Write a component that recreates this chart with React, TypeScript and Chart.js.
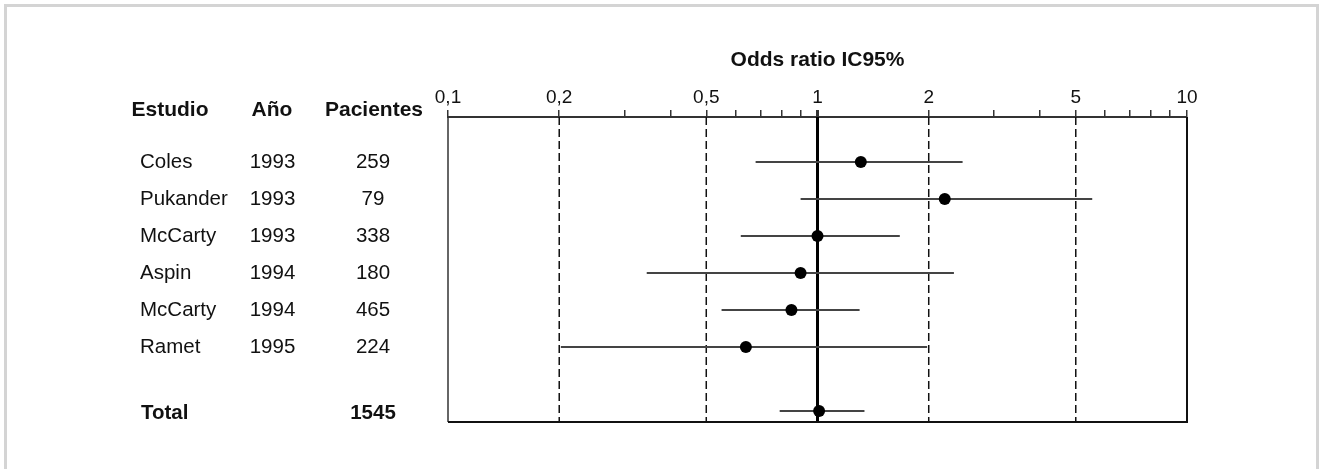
import React, { useEffect, useRef } from "react";
import { Chart, registerables } from "chart.js";

Chart.register(...registerables);

// ---- data ----
const studies = ["Coles", "Pukander", "McCarty", "Aspin", "McCarty", "Ramet"];
const years = ["1993", "1993", "1993", "1994", "1994", "1995"];
const patients = ["259", "79", "338", "180", "465", "224"];
const oddsRatio = [1.31, 2.21, 1.0, 0.9, 0.85, 0.64];
const ciLow = [0.68, 0.9, 0.62, 0.345, 0.55, 0.202];
const ciHigh = [2.47, 5.54, 1.67, 2.34, 1.3, 1.98];
const rowPositions = [1, 2, 3, 4, 5, 6];

const totalLabel = "Total";
const totalPatients = "1545";
const totalOR = 1.01;
const totalLow = 0.79;
const totalHigh = 1.34;
const totalPosition = 7.73;

const headers = ["Estudio", "Año", "Pacientes"];
const axisTitle = "Odds ratio IC95%";
const majorTicks = [0.1, 0.2, 0.5, 1, 2, 5, 10];
const majorTickLabels = ["0,1", "0,2", "0,5", "1", "2", "5", "10"];
const minorTicks = [0.3, 0.4, 0.6, 0.7, 0.8, 0.9, 3, 4, 6, 7, 8, 9];
const dashedRefs = [0.2, 0.5, 2, 5];
const nullEffect = 1;

// ---- layout / style ----
const Y_MIN = -0.216;
const Y_MAX = 8.03;
const FONT = "'Liberation Sans', Arial, Helvetica, sans-serif";
const INK = "#111";

const forestPlugin = {
  id: "forestTable",
  beforeDraw(chart: any) {
    const { ctx } = chart;
    ctx.save();
    ctx.fillStyle = "#fff";
    ctx.fillRect(0, 0, chart.width, chart.height);
    ctx.strokeStyle = "#d4d4d4";
    ctx.lineWidth = 3;
    ctx.strokeRect(5.5, 5.5, chart.width - 9, chart.height + 20);
    ctx.restore();
  },
  afterDraw(chart: any) {
    const { ctx, chartArea: a } = chart;
    const y = chart.scales.y;
    ctx.save();
    // plot frame (left, bottom, right)
    ctx.strokeStyle = "#333";
    ctx.lineWidth = 1.5;
    ctx.beginPath();
    ctx.moveTo(a.left, a.top);
    ctx.lineTo(a.left, a.bottom);
    ctx.stroke();
    ctx.strokeStyle = "#111";
    ctx.lineWidth = 2;
    ctx.beginPath();
    ctx.moveTo(a.left, a.bottom);
    ctx.lineTo(a.right, a.bottom);
    ctx.lineTo(a.right, a.top);
    ctx.stroke();

    // headers
    ctx.fillStyle = INK;
    ctx.font = `bold 21px ${FONT}`;
    ctx.textAlign = "center";
    ctx.textBaseline = "alphabetic";
    const headerX = [170, 272, 374];
    headers.forEach((h, i) => ctx.fillText(h, headerX[i], a.top - 1));

    // rows
    ctx.font = `20.5px ${FONT}`;
    ctx.textBaseline = "middle";
    rowPositions.forEach((pos, i) => {
      const py = y.getPixelForValue(pos);
      ctx.textAlign = "left";
      ctx.fillText(studies[i], 140, py);
      ctx.textAlign = "center";
      ctx.fillText(years[i], 272.5, py);
      ctx.fillText(patients[i], 373, py);
    });

    // total
    ctx.font = `bold 20.5px ${FONT}`;
    const ty = y.getPixelForValue(totalPosition) + 2;
    ctx.textAlign = "left";
    ctx.fillText(totalLabel, 141, ty);
    ctx.textAlign = "center";
    ctx.fillText(totalPatients, 373, ty);
    ctx.restore();
  },
};

export default function App() {
  const ref = useRef<HTMLCanvasElement>(null);

  useEffect(() => {
    if (!ref.current) return;

    const pointData = rowPositions
      .map((pos, i) => ({ x: oddsRatio[i], y: pos }))
      .concat([{ x: totalOR, y: totalPosition }]);

    const ciSets = rowPositions
      .map((pos, i) => ({ lo: ciLow[i], hi: ciHigh[i], pos }))
      .concat([{ lo: totalLow, hi: totalHigh, pos: totalPosition }])
      .map((r) => ({
        type: "scatter" as const,
        data: [
          { x: r.lo, y: r.pos },
          { x: r.hi, y: r.pos },
        ],
        showLine: true,
        borderColor: "#444",
        borderWidth: 2,
        pointRadius: 0,
        order: 1,
      }));

    const refSets = dashedRefs.map((v) => ({
      type: "scatter" as const,
      data: [
        { x: v, y: Y_MIN },
        { x: v, y: Y_MAX },
      ],
      showLine: true,
      borderColor: "#111",
      borderWidth: 1.5,
      borderDash: [8, 4],
      pointRadius: 0,
      order: 2,
    }));

    const nullSet = {
      type: "scatter" as const,
      data: [
        { x: nullEffect, y: Y_MIN },
        { x: nullEffect, y: Y_MAX },
      ],
      showLine: true,
      borderColor: "#000",
      borderWidth: 3,
      pointRadius: 0,
      order: 2,
    };

    const allTicks = [...majorTicks, ...minorTicks].sort((p, q) => p - q);

    const chart = new Chart(ref.current, {
      type: "scatter",
      data: {
        datasets: [
          {
            data: pointData,
            pointRadius: 6,
            pointHoverRadius: 6,
            backgroundColor: "#000",
            borderColor: "#000",
            borderWidth: 0,
            order: 0,
          } as any,
          ...ciSets,
          nullSet,
          ...refSets,
        ],
      },
      options: {
        animation: false,
        responsive: true,
        maintainAspectRatio: false,
        events: [],
        font: { family: FONT },
        layout: { padding: { left: 448, right: 134, top: 0, bottom: 47 } },
        plugins: {
          legend: { display: false },
          tooltip: { enabled: false },
          title: { display: false },
        },
        scales: {
          x: {
            type: "logarithmic",
            position: "top",
            min: 0.1,
            max: 10,
            afterBuildTicks: (scale: any) => {
              scale.ticks = allTicks.map((v) => ({ value: v, major: majorTicks.includes(v) }));
            },
            afterFit: (scale: any) => {
              scale.height = 117;
            },
            border: { display: true, color: "#333", width: 2 },
            grid: {
              display: true,
              drawOnChartArea: false,
              drawTicks: true,
              tickLength: 7,
              color: "#333",
              lineWidth: (c: any) => (c.tick && c.tick.value === nullEffect ? 3 : 1.5),
            },
            ticks: {
              autoSkip: false,
              maxRotation: 0,
              minRotation: 0,
              padding: 1,
              color: INK,
              font: { family: FONT, size: 19 },
              callback: (value: any) => {
                const idx = majorTicks.indexOf(Number(value));
                return idx >= 0 ? majorTickLabels[idx] : "";
              },
            },
            title: {
              display: true,
              text: axisTitle,
              color: INK,
              font: { family: FONT, size: 21, weight: "bold" },
              padding: { top: 48, bottom: 0 },
            },
          } as any,
          y: {
            type: "linear",
            display: false,
            reverse: true,
            min: Y_MIN,
            max: Y_MAX,
          },
        },
      },
      plugins: [forestPlugin],
    });

    return () => chart.destroy();
  }, []);

  return (
    <div style={{ position: "absolute", left: 0, top: 0, width: 1321, height: 469, background: "#fff" }}>
      <canvas ref={ref} />
    </div>
  );
}
